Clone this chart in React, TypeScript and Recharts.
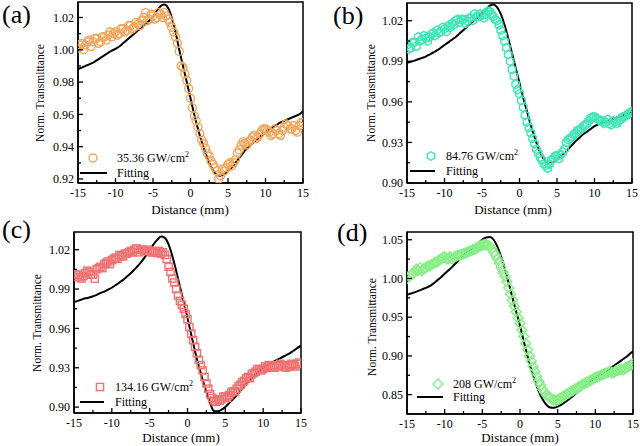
import React from "react";
import { ComposedChart, Line, Scatter, XAxis, YAxis, Legend, ReferenceArea } from "recharts";

const FONT = '"Liberation Serif", "Times New Roman", serif';

// z positions of the measured points (mm)
const scanZ = [
  -15, -14.75, -14.5, -14.25, -14, -13.75, -13.5, -13.25, -13, -12.75, -12.5, -12.25,
  -12, -11.75, -11.5, -11.25, -11, -10.75, -10.5, -10.25, -10, -9.75, -9.5, -9.25,
  -9, -8.75, -8.5, -8.25, -8, -7.75, -7.5, -7.25, -7, -6.75, -6.5, -6.25,
  -6, -5.75, -5.5, -5.25, -5, -4.75, -4.5, -4.25, -4, -3.75, -3.5, -3.25,
  -3, -2.75, -2.5, -2.25, -2, -1.75, -1.5, -1.25, -1, -0.75, -0.5, -0.25,
  0, 0.25, 0.5, 0.75, 1, 1.25, 1.5, 1.75, 2, 2.25, 2.5, 2.75,
  3, 3.25, 3.5, 3.75, 4, 4.25, 4.5, 4.75, 5, 5.25, 5.5, 5.75,
  6, 6.25, 6.5, 6.75, 7, 7.25, 7.5, 7.75, 8, 8.25, 8.5, 8.75,
  9, 9.25, 9.5, 9.75, 10, 10.25, 10.5, 10.75, 11, 11.25, 11.5, 11.75,
  12, 12.25, 12.5, 12.75, 13, 13.25, 13.5, 13.75, 14, 14.25, 14.5, 14.75,
  15,
];

// z positions of the fitted curves (mm)
const fitZ = [
  -15, -14.5, -14, -13.5, -13, -12.5, -12, -11.5, -11, -10.5, -10, -9.5, -9, -8.5, -8, -7.5,
  -7, -6.5, -6, -5.5, -5, -4.5, -4, -3.5, -3, -2.5, -2, -1.5, -1, -0.5, 0, 0.5,
  1, 1.5, 2, 2.5, 3, 3.5, 4, 4.5, 5, 5.5, 6, 6.5, 7, 7.5, 8, 8.5,
  9, 9.5, 10, 10.5, 11, 11.5, 12, 12.5, 13, 13.5, 14, 14.5, 15,
];

const xMajor = [-15, -10, -5, 0, 5, 10, 15];
const xMinor = [-12.5, -7.5, -2.5, 2.5, 7.5, 12.5];

// (a) 35.36 GW/cm2
const aMeasured = [
  1.001, 1.003, 1.004, 1.0, 1.003, 1.005, 1.006, 1.002, 1.005, 1.007, 1.007, 1.004,
  1.005, 1.008, 1.008, 1.006, 1.009, 1.011, 1.008, 1.01, 1.011, 1.009, 1.01, 1.013,
  1.013, 1.011, 1.012, 1.015, 1.015, 1.013, 1.014, 1.017, 1.016, 1.015, 1.018, 1.02,
  1.023, 1.018, 1.019, 1.022, 1.021, 1.019, 1.02, 1.023, 1.022, 1.02, 1.023, 1.021,
  1.019, 1.017, 1.014, 1.011, 1.008, 1.004, 0.999, 0.99, 0.989, 0.985, 0.981, 0.976,
  0.97, 0.964, 0.959, 0.956, 0.952, 0.948, 0.944, 0.942, 0.939, 0.936, 0.934, 0.931,
  0.929, 0.927, 0.925, 0.92, 0.922, 0.926, 0.925, 0.927, 0.929, 0.93, 0.928, 0.93,
  0.932, 0.936, 0.938, 0.941, 0.943, 0.942, 0.941, 0.943, 0.944, 0.946, 0.947, 0.945,
  0.946, 0.948, 0.95, 0.951, 0.951, 0.95, 0.949, 0.947, 0.948, 0.951, 0.95, 0.948,
  0.947, 0.95, 0.952, 0.954, 0.953, 0.951, 0.951, 0.953, 0.95, 0.949, 0.953, 0.955,
  0.955,
];
const aFitted = [
  0.988, 0.989, 0.99, 0.991, 0.992, 0.9935, 0.995, 0.9965, 0.998, 0.9995, 1.0005, 1.002, 1.004, 1.006, 1.008, 1.01,
  1.012, 1.014, 1.016, 1.018, 1.0205, 1.024, 1.027, 1.028, 1.026, 1.02, 1.011, 1.0, 0.99, 0.98, 0.97, 0.96,
  0.951, 0.943, 0.936, 0.93, 0.9255, 0.9225, 0.922, 0.923, 0.925, 0.927, 0.93, 0.933, 0.936, 0.939, 0.941, 0.943,
  0.945, 0.947, 0.949, 0.951, 0.952, 0.9535, 0.955, 0.956, 0.957, 0.958, 0.959, 0.96, 0.962,
];

// (b) 84.76 GW/cm2
const bMeasured = [
  1.002, 0.999, 1.0, 1.004, 1.004, 1.001, 1.008, 1.005, 1.006, 1.009, 1.007, 1.005,
  1.008, 1.01, 1.011, 1.009, 1.013, 1.011, 1.012, 1.015, 1.014, 1.012, 1.016, 1.015,
  1.018, 1.017, 1.02, 1.021, 1.019, 1.021, 1.021, 1.018, 1.02, 1.022, 1.022, 1.02,
  1.025, 1.023, 1.023, 1.025, 1.024, 1.022, 1.025, 1.027, 1.027, 1.025, 1.023, 1.021,
  1.02, 1.017, 1.013, 1.009, 1.005, 1.0, 0.995, 0.99, 0.984, 0.979, 0.973, 0.969,
  0.966, 0.961, 0.956, 0.95, 0.945, 0.941, 0.937, 0.933, 0.929, 0.925, 0.922, 0.919,
  0.917, 0.914, 0.913, 0.911, 0.914, 0.917, 0.918, 0.92, 0.92, 0.918, 0.921, 0.923,
  0.925, 0.93, 0.932, 0.933, 0.934, 0.936, 0.937, 0.939, 0.939, 0.94, 0.942, 0.943,
  0.944, 0.946, 0.948, 0.949, 0.949, 0.948, 0.947, 0.946, 0.946, 0.944, 0.945, 0.947,
  0.944, 0.943, 0.946, 0.945, 0.944, 0.946, 0.947, 0.949, 0.949, 0.95, 0.951, 0.952,
  0.953,
];
const bFitted = [
  0.989, 0.9897, 0.9905, 0.9915, 0.9925, 0.9935, 0.995, 0.9965, 0.998, 1.0, 1.002, 1.004, 1.006, 1.008, 1.0105, 1.013,
  1.0155, 1.018, 1.0205, 1.023, 1.0255, 1.028, 1.031, 1.032, 1.03, 1.025, 1.017, 1.007, 0.996, 0.985, 0.974, 0.963,
  0.953, 0.943, 0.934, 0.926, 0.92, 0.916, 0.915, 0.9155, 0.917, 0.9195, 0.922, 0.925, 0.928, 0.931, 0.9335, 0.936,
  0.938, 0.94, 0.942, 0.9433, 0.9445, 0.9455, 0.9465, 0.9475, 0.9485, 0.9495, 0.9505, 0.9515, 0.9525,
];

// (c) 134.16 GW/cm2
const cMeasured = [
  0.9995, 1.001, 1.001, 0.999, 0.998, 1.0, 1.002, 1.004, 1.003, 1.001, 1.001, 0.998,
  1.005, 1.006, 1.007, 1.006, 1.009, 1.01, 1.011, 1.009, 1.012, 1.013, 1.014, 1.013,
  1.016, 1.015, 1.015, 1.017, 1.017, 1.018, 1.019, 1.018, 1.02, 1.021, 1.018, 1.02,
  1.02, 1.019, 1.019, 1.02, 1.019, 1.018, 1.018, 1.019, 1.0175, 1.019, 1.017, 1.018,
  1.016, 1.013, 1.007, 1.003, 0.998, 0.995, 0.99, 0.985, 0.981, 0.978, 0.975, 0.971,
  0.967, 0.961, 0.956, 0.951, 0.946, 0.941, 0.936, 0.932, 0.928, 0.923, 0.918, 0.914,
  0.91, 0.907, 0.905, 0.904, 0.906, 0.905, 0.906, 0.908, 0.908, 0.907, 0.909, 0.911,
  0.912, 0.912, 0.914, 0.916, 0.917, 0.919, 0.92, 0.922, 0.923, 0.922, 0.925, 0.926,
  0.927, 0.929, 0.929, 0.928, 0.929, 0.931, 0.93, 0.932, 0.931, 0.93, 0.93, 0.932,
  0.931, 0.933, 0.932, 0.931, 0.93, 0.932, 0.931, 0.933, 0.932, 0.931, 0.933, 0.934,
  0.933,
];
const cFitted = [
  0.98, 0.981, 0.982, 0.983, 0.9835, 0.9845, 0.9855, 0.987, 0.988, 0.9895, 0.991, 0.993, 0.995, 0.997, 0.9995, 1.002,
  1.005, 1.008, 1.0115, 1.0155, 1.02, 1.024, 1.0275, 1.03, 1.029, 1.024, 1.015, 1.004, 0.992, 0.98, 0.968, 0.955,
  0.9425, 0.931, 0.921, 0.9115, 0.903, 0.897, 0.8968, 0.898, 0.9, 0.903, 0.906, 0.909, 0.9125, 0.916, 0.919, 0.922,
  0.925, 0.9275, 0.93, 0.9318, 0.9335, 0.935, 0.9365, 0.938, 0.9395, 0.941, 0.943, 0.945, 0.9468,
];

// (d) 208 GW/cm2
const dMeasured = [
  1.0, 1.003, 1.004, 1.006, 1.008, 1.012, 1.01, 1.014, 1.01, 1.013, 1.014, 1.016,
  1.016, 1.018, 1.019, 1.021, 1.021, 1.024, 1.025, 1.027, 1.028, 1.025, 1.026, 1.028,
  1.025, 1.027, 1.029, 1.03, 1.03, 1.031, 1.032, 1.033, 1.034, 1.035, 1.036, 1.037,
  1.038, 1.039, 1.041, 1.042, 1.043, 1.044, 1.044, 1.043, 1.041, 1.038, 1.034, 1.03,
  1.025, 1.02, 1.014, 1.008, 1.003, 0.996, 0.988, 0.98, 0.972, 0.964, 0.957, 0.949,
  0.942, 0.933, 0.925, 0.916, 0.908, 0.9, 0.893, 0.886, 0.88, 0.873, 0.867, 0.862,
  0.857, 0.853, 0.85, 0.848, 0.846, 0.844, 0.843, 0.842, 0.843, 0.845, 0.846, 0.848,
  0.849, 0.851, 0.852, 0.854, 0.855, 0.857, 0.858, 0.86, 0.861, 0.863, 0.864, 0.865,
  0.866, 0.868, 0.869, 0.871, 0.872, 0.873, 0.874, 0.875, 0.876, 0.877, 0.878, 0.879,
  0.88, 0.878, 0.879, 0.881, 0.881, 0.882, 0.883, 0.882, 0.884, 0.886, 0.887, 0.888,
  0.89,
];
const dFitted = [
  0.979, 0.9805, 0.982, 0.984, 0.986, 0.9878, 0.99, 0.9935, 0.9975, 1.0015, 1.006, 1.0105, 1.015, 1.02, 1.025, 1.03,
  1.034, 1.038, 1.042, 1.046, 1.05, 1.053, 1.0535, 1.05, 1.041, 1.028, 1.012, 0.994, 0.975, 0.957, 0.939, 0.919,
  0.8995, 0.882, 0.867, 0.854, 0.844, 0.837, 0.8335, 0.833, 0.8345, 0.837, 0.8405, 0.844, 0.848, 0.852, 0.856, 0.86,
  0.864, 0.868, 0.8715, 0.875, 0.878, 0.881, 0.8845, 0.8875, 0.891, 0.8945, 0.898, 0.902, 0.906,
];

const aYMajor = [0.92, 0.94, 0.96, 0.98, 1.0, 1.02];
const aYMinor = [0.93, 0.95, 0.97, 0.99, 1.01];
const bYMajor = [0.9, 0.93, 0.96, 0.99, 1.02];
const bYMinor = [0.915, 0.945, 0.975, 1.005];
const dYMajor = [0.85, 0.9, 0.95, 1.0, 1.05];
const dYMinor = [0.875, 0.925, 0.975, 1.025];

const intensities = ["35.36", "84.76", "134.16", "208"];
const panelLetters = ["(a)", "(b)", "(c)", "(d)"];

const toPoints = (zs: number[], vals: number[]) => vals.map((t, i) => ({ z: zs[i], t }));

const drawMarker = (kind: string, color: string, cx: number, cy: number) => {
  const common = { fill: "none", stroke: color, strokeWidth: 1.4 };
  if (kind === "circle") return <circle cx={cx} cy={cy} r={4} {...common} />;
  if (kind === "square") return <rect x={cx - 3.6} y={cy - 3.6} width={7.2} height={7.2} {...common} />;
  if (kind === "diamond")
    return <polygon points={`${cx},${cy - 5} ${cx + 5},${cy} ${cx},${cy + 5} ${cx - 5},${cy}`} {...common} />;
  const pts = [0, 1, 2, 3, 4, 5]
    .map((k) => {
      const a = (Math.PI / 3) * k + Math.PI / 6;
      return `${cx + 4.3 * Math.cos(a)},${cy + 4.3 * Math.sin(a)}`;
    })
    .join(" ");
  return <polygon points={pts} {...common} />;
};

const txt = { fontFamily: FONT };

const XTick = (props: any) => {
  const { x, y, payload } = props;
  const major = xMajor.includes(payload.value);
  return (
    <g>
      <line x1={x} x2={x} y1={y} y2={y - (major ? 5 : 3)} stroke="#000" strokeWidth={1.3} />
      {major && (
        <text x={x} y={y + 14} textAnchor="middle" style={txt} fontFamily={FONT} fontSize={12} fill="#000">
          {payload.value}
        </text>
      )}
    </g>
  );
};

const YTick = (props: any) => {
  const { x, y, payload, majors } = props;
  const major = majors.includes(payload.value);
  return (
    <g>
      <line x1={x} x2={x + (major ? 5 : 3)} y1={y} y2={y} stroke="#000" strokeWidth={1.3} />
      {major && (
        <text x={x - 4} y={y + 4.2} textAnchor="end" style={txt} fontFamily={FONT} fontSize={12} fill="#000">
          {payload.value.toFixed(2)}
        </text>
      )}
    </g>
  );
};

interface PanelProps {
  idx: number;
  left: number;
  top: number;
  color: string;
  shape: string;
  measured: number[];
  fitted: number[];
  domain: [number, number];
  yMajor: number[];
  yMinor: number[];
  margin: { top: number; right: number };
  yWidth: number;
  xHeight: number;
  yTitle: [number, number];
  xTitle: [number, number];
  legend: { mx: number; my: number; tx: number; l1: number; l2: number; ly: number };
  letter: [number, number];
}

const W = 320;
const H = 223;

const Panel = (p: PanelProps) => {
  const lg = p.legend;
  return (
    <div style={{ position: "absolute", left: p.left, top: p.top, width: W, height: H }}>
      <ComposedChart width={W} height={H} margin={{ top: p.margin.top, right: p.margin.right, bottom: 0, left: 0 }}>
        <XAxis
          dataKey="z"
          type="number"
          domain={[-15, 15]}
          ticks={[...xMajor, ...xMinor]}
          interval={0}
          allowDataOverflow
          height={p.xHeight}
          tickSize={0}
          tickMargin={0}
          tickLine={false}
          axisLine={{ stroke: "#000", strokeWidth: 1.5 }}
          tick={(tp: any) => <XTick {...tp} />}
          label={() => (
            <text
              x={p.xTitle[0]}
              y={p.xTitle[1] + 4.5}
              textAnchor="middle"
              style={txt}
              fontFamily={FONT}
              fontSize={13}
              fill="#000"
            >
              Distance (mm)
            </text>
          )}
        />
        <YAxis
          type="number"
          domain={p.domain}
          ticks={[...p.yMajor, ...p.yMinor]}
          interval={0}
          allowDataOverflow
          width={p.yWidth}
          tickSize={0}
          tickMargin={0}
          tickLine={false}
          axisLine={{ stroke: "#000", strokeWidth: 1.5 }}
          tick={(tp: any) => <YTick {...tp} majors={p.yMajor} />}
          label={() => (
            <text
              x={p.yTitle[0] + 4}
              y={p.yTitle[1]}
              transform={`rotate(-90 ${p.yTitle[0] + 4} ${p.yTitle[1]})`}
              textAnchor="middle"
              style={txt}
              fontFamily={FONT}
              fontSize={11.5}
              fill="#000"
            >
              Norm. Transmittance
            </text>
          )}
        />
        <ReferenceArea x1={-15} x2={15} y1={p.domain[0]} y2={p.domain[1]} fill="none" stroke="#000" strokeWidth={1.5} />
        <Scatter
          data={toPoints(scanZ, p.measured)}
          dataKey="t"
          isAnimationActive={false}
          shape={(sp: any) => drawMarker(p.shape, p.color, sp.cx, sp.cy)}
        />
        <Line
          data={toPoints(fitZ, p.fitted)}
          dataKey="t"
          type="monotone"
          stroke="#000"
          strokeWidth={2}
          dot={false}
          activeDot={false}
          isAnimationActive={false}
        />
        <Legend
          verticalAlign="middle"
          align="center"
          layout="horizontal"
          wrapperStyle={{ left: 0, top: 0, width: W, height: H, bottom: "auto", right: "auto", pointerEvents: "none" }}
          content={() => (
            <svg width={W} height={H} style={{ display: "block" }}>
              {drawMarker(p.shape, p.color, lg.mx, lg.my)}
              <text x={lg.tx} y={lg.my + 4} style={txt} fontFamily={FONT} fontSize={12} fill="#000">
                {intensities[p.idx]} GW/cm
                <tspan dy={-5} fontSize={8}>
                  2
                </tspan>
              </text>
              <line x1={lg.l1} x2={lg.l2} y1={lg.ly} y2={lg.ly} stroke="#000" strokeWidth={2} />
              <text x={lg.tx} y={lg.ly + 4} style={txt} fontFamily={FONT} fontSize={12} fill="#000">
                Fitting
              </text>
            </svg>
          )}
        />
      </ComposedChart>
      <div
        style={{
          position: "absolute",
          left: p.letter[0],
          top: p.letter[1],
          fontFamily: FONT,
          fontSize: 26,
          lineHeight: "26px",
          color: "#000",
        }}
      >
        {panelLetters[p.idx]}
      </div>
    </div>
  );
};

export default function App() {
  return (
    <div
      style={{
        position: "absolute",
        left: 0,
        top: 0,
        width: 640,
        height: 446,
        background: "#fff",
        overflow: "hidden",
        fontFamily: FONT,
      }}
    >
      <Panel
        idx={0}
        left={0}
        top={0}
        color="#F2A55A"
        shape="circle"
        measured={aMeasured}
        fitted={aFitted}
        domain={[0.9175, 1.0296]}
        yMajor={aYMajor}
        yMinor={aYMinor}
        margin={{ top: 2, right: 17 }}
        yWidth={78}
        xHeight={40}
        yTitle={[40, 93]}
        xTitle={[190, 209]}
        legend={{ mx: 93, my: 158, tx: 117, l1: 80, l2: 107, ly: 173 }}
        letter={[2, 2]}
      />
      <Panel
        idx={1}
        left={320}
        top={0}
        color="#3FE6B6"
        shape="hexagon"
        measured={bMeasured}
        fitted={bFitted}
        domain={[0.9, 1.0331]}
        yMajor={bYMajor}
        yMinor={bYMinor}
        margin={{ top: 3, right: 8 }}
        yWidth={87}
        xHeight={40}
        yTitle={[51, 93]}
        xTitle={[193, 209]}
        legend={{ mx: 111, my: 156, tx: 126, l1: 90, l2: 115, ly: 171 }}
        letter={[13, 3]}
      />
      <Panel
        idx={2}
        left={0}
        top={223}
        color="#F07272"
        shape="square"
        measured={cMeasured}
        fitted={cFitted}
        domain={[0.8955, 1.0335]}
        yMajor={bYMajor}
        yMinor={bYMinor}
        margin={{ top: 9, right: 19 }}
        yWidth={74}
        xHeight={33}
        yTitle={[37, 100]}
        xTitle={[181, 214]}
        legend={{ mx: 100, my: 164, tx: 115, l1: 80, l2: 104, ly: 179 }}
        letter={[2, -6]}
      />
      <Panel
        idx={3}
        left={320}
        top={223}
        color="#86EE86"
        shape="diamond"
        measured={dMeasured}
        fitted={dFitted}
        domain={[0.825, 1.06]}
        yMajor={dYMajor}
        yMinor={dYMinor}
        margin={{ top: 9, right: 7 }}
        yWidth={87}
        xHeight={32}
        yTitle={[52, 104]}
        xTitle={[200, 214]}
        legend={{ mx: 118, my: 161, tx: 133, l1: 97, l2: 123, ly: 174 }}
        letter={[17, -3]}
      />
    </div>
  );
}
